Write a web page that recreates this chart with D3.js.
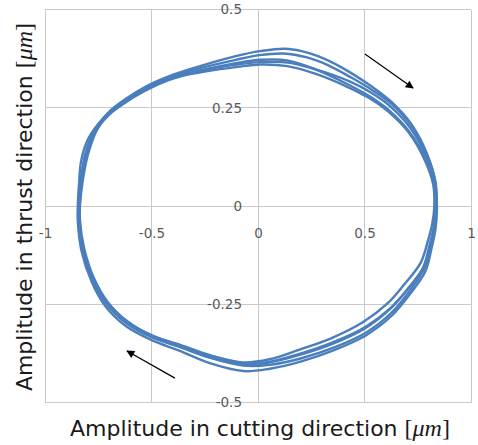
<!DOCTYPE html>
<html>
<head>
<meta charset="utf-8">
<script src="https://cdn.jsdelivr.net/npm/d3@7"></script>
<style>
  html, body { margin: 0; padding: 0; background: #fff; }
  svg { display: block; }
</style>
</head>
<body>
<svg id="chart" width="478" height="445"></svg>
<script>
// Tick values for both axes
const xTicks = [-1, -0.5, 0, 0.5, 1];
const yTicks = [-0.5, -0.25, 0, 0.25, 0.5];

// Tool-tip orbit, one array per revolution: [cutting, thrust] in µm
const orbit1 = [[-0.842,0.000],[-0.833,0.062],[-0.812,0.128],[-0.770,0.190],[-0.706,0.236],[-0.622,0.272],[-0.520,0.306],[-0.410,0.332],[-0.260,0.358],[-0.100,0.382],[0.010,0.394],[0.130,0.400],[0.240,0.389],[0.338,0.368],[0.432,0.340],[0.534,0.304],[0.628,0.264],[0.720,0.208],[0.794,0.132],[0.832,0.060],[0.836,0.000],[0.828,-0.050],[0.810,-0.098],[0.780,-0.160],[0.704,-0.222],[0.626,-0.272],[0.508,-0.322],[0.358,-0.360],[0.200,-0.388],[0.056,-0.404],[-0.069,-0.406],[-0.225,-0.386],[-0.366,-0.359],[-0.499,-0.334],[-0.616,-0.299],[-0.712,-0.249],[-0.775,-0.189],[-0.822,-0.112],[-0.842,-0.040]];
const orbit2 = [[-0.840,0.000],[-0.830,0.060],[-0.815,0.122],[-0.776,0.182],[-0.714,0.228],[-0.628,0.264],[-0.526,0.298],[-0.416,0.324],[-0.258,0.346],[-0.100,0.360],[0.010,0.366],[0.140,0.365],[0.275,0.347],[0.430,0.317],[0.532,0.288],[0.622,0.253],[0.716,0.198],[0.792,0.123],[0.830,0.056],[0.834,-0.002],[0.826,-0.052],[0.806,-0.098],[0.774,-0.158],[0.696,-0.216],[0.618,-0.263],[0.500,-0.312],[0.352,-0.350],[0.195,-0.379],[0.054,-0.398],[-0.070,-0.404],[-0.226,-0.386],[-0.368,-0.358],[-0.500,-0.332],[-0.618,-0.296],[-0.712,-0.246],[-0.774,-0.186],[-0.820,-0.110],[-0.840,-0.038]];
const orbit3 = [[-0.846,0.000],[-0.840,0.058],[-0.830,0.116],[-0.796,0.172],[-0.734,0.218],[-0.644,0.256],[-0.534,0.292],[-0.420,0.320],[-0.256,0.346],[-0.098,0.364],[0.012,0.372],[0.142,0.370],[0.278,0.346],[0.428,0.308],[0.528,0.278],[0.618,0.242],[0.712,0.188],[0.790,0.116],[0.832,0.052],[0.840,-0.004],[0.834,-0.056],[0.816,-0.104],[0.786,-0.166],[0.708,-0.228],[0.630,-0.278],[0.510,-0.328],[0.360,-0.366],[0.200,-0.396],[0.056,-0.414],[-0.070,-0.420],[-0.226,-0.400],[-0.370,-0.368],[-0.504,-0.340],[-0.624,-0.304],[-0.718,-0.254],[-0.780,-0.194],[-0.828,-0.116],[-0.846,-0.040]];
const orbit4 = [[-0.836,0.000],[-0.822,0.068],[-0.796,0.136],[-0.750,0.200],[-0.684,0.244],[-0.604,0.276],[-0.508,0.306],[-0.402,0.326],[-0.250,0.342],[-0.096,0.354],[0.010,0.360],[0.138,0.356],[0.272,0.336],[0.424,0.302],[0.524,0.274],[0.612,0.240],[0.706,0.188],[0.782,0.118],[0.822,0.056],[0.828,0.002],[0.818,-0.046],[0.798,-0.088],[0.764,-0.144],[0.686,-0.200],[0.608,-0.248],[0.492,-0.296],[0.346,-0.336],[0.192,-0.366],[0.054,-0.390],[-0.068,-0.398],[-0.222,-0.380],[-0.362,-0.354],[-0.496,-0.330],[-0.612,-0.294],[-0.706,-0.244],[-0.770,-0.184],[-0.816,-0.108],[-0.836,-0.036]];
const orbit5 = [[-0.838,0.000],[-0.828,0.064],[-0.806,0.128],[-0.764,0.188],[-0.700,0.232],[-0.618,0.266],[-0.518,0.300],[-0.410,0.328],[-0.262,0.352],[-0.104,0.372],[0.006,0.384],[0.120,0.388],[0.230,0.378],[0.330,0.358],[0.434,0.328],[0.534,0.296],[0.626,0.260],[0.718,0.206],[0.794,0.130],[0.834,0.060],[0.838,0.002],[0.830,-0.046],[0.812,-0.094],[0.780,-0.154],[0.702,-0.212],[0.622,-0.260],[0.504,-0.308],[0.356,-0.346],[0.198,-0.376],[0.058,-0.396],[-0.066,-0.402],[-0.222,-0.384],[-0.364,-0.356],[-0.498,-0.330],[-0.614,-0.296],[-0.708,-0.246],[-0.772,-0.186],[-0.820,-0.110],[-0.838,-0.038]];

// Direction-of-travel arrows: [from, to] in axis units
const arrowTopRight = [[0.502, 0.387], [0.728, 0.300]];
const arrowBottomLeft = [[-0.390, -0.438], [-0.615, -0.369]];

const svg = d3.select("#chart");
const x = d3.scaleLinear().domain([-1, 1]).range([45, 471]);
const y = d3.scaleLinear().domain([-0.5, 0.5]).range([402.5, 9.5]);

// Grid (also serves as frame and zero axes)
const grid = svg.append("g").attr("stroke", "#c9c9c9").attr("stroke-width", 1)
  .attr("shape-rendering", "crispEdges");
grid.selectAll(".v").data(xTicks).join("line")
  .attr("x1", d => x(d)).attr("x2", d => x(d))
  .attr("y1", y(0.5)).attr("y2", y(-0.5));
grid.selectAll(".h").data(yTicks).join("line")
  .attr("y1", d => y(d)).attr("y2", d => y(d))
  .attr("x1", x(-1)).attr("x2", x(1));

// Orbit traces
const line = d3.line().x(d => x(d[0])).y(d => y(d[1])).curve(d3.curveCatmullRomClosed.alpha(0.5));
svg.append("g").selectAll("path")
  .data([orbit1, orbit2, orbit3, orbit4, orbit5])
  .join("path")
  .attr("d", line)
  .attr("fill", "none")
  .attr("stroke", "#4a7ebd")
  .attr("stroke-width", 2.4)
  .attr("stroke-linejoin", "round");

// Tick labels sitting on the zero axes
const tickFont = g => g.attr("font-family", "DejaVu Sans").attr("font-size", 13.5)
  .call(s => s.select(".domain").remove())
  .call(s => s.selectAll("text").attr("fill", "#595959"));
svg.append("g").attr("transform", `translate(0,${y(0)})`)
  .call(d3.axisBottom(x).tickValues(xTicks).tickSize(0).tickPadding(22).tickFormat(d => String(d)))
  .call(tickFont);
svg.append("g").attr("transform", `translate(${x(0)},0)`)
  .call(d3.axisLeft(y).tickValues(yTicks).tickSize(0).tickPadding(16).tickFormat(d => String(d)))
  .call(tickFont);

// Arrows
const defs = svg.append("defs");
defs.append("marker").attr("id", "head")
  .attr("viewBox", "0 0 10 10").attr("refX", 9).attr("refY", 5)
  .attr("markerWidth", 10).attr("markerHeight", 8).attr("markerUnits", "userSpaceOnUse")
  .attr("orient", "auto")
  .append("path").attr("d", "M0,0 L10,5 L0,10 Z").attr("fill", "#000");
svg.append("g").selectAll("line").data([arrowTopRight, arrowBottomLeft]).join("line")
  .attr("x1", d => x(d[0][0])).attr("y1", d => y(d[0][1]))
  .attr("x2", d => x(d[1][0])).attr("y2", d => y(d[1][1]))
  .attr("stroke", "#000").attr("stroke-width", 1.2)
  .attr("marker-end", "url(#head)");

// Axis titles
function title(sel, label) {
  sel.attr("font-family", "DejaVu Sans").attr("font-size", 22).attr("fill", "#1a1a1a")
    .attr("text-anchor", "middle");
  sel.append("tspan").text(label + " ");
  sel.append("tspan").attr("font-family", "Liberation Serif").attr("font-size", 24).text("[");
  sel.append("tspan").attr("font-family", "Liberation Serif").attr("font-size", 24).attr("font-style", "italic").text("μm");
  sel.append("tspan").attr("font-family", "Liberation Serif").attr("font-size", 24).text("]");
}
svg.append("text").attr("x", 260).attr("y", 436)
  .call(title, "Amplitude in cutting direction");
svg.append("text").attr("transform", "translate(32,207) rotate(-90)")
  .call(title, "Amplitude in thrust direction");
</script>
</body>
</html>
